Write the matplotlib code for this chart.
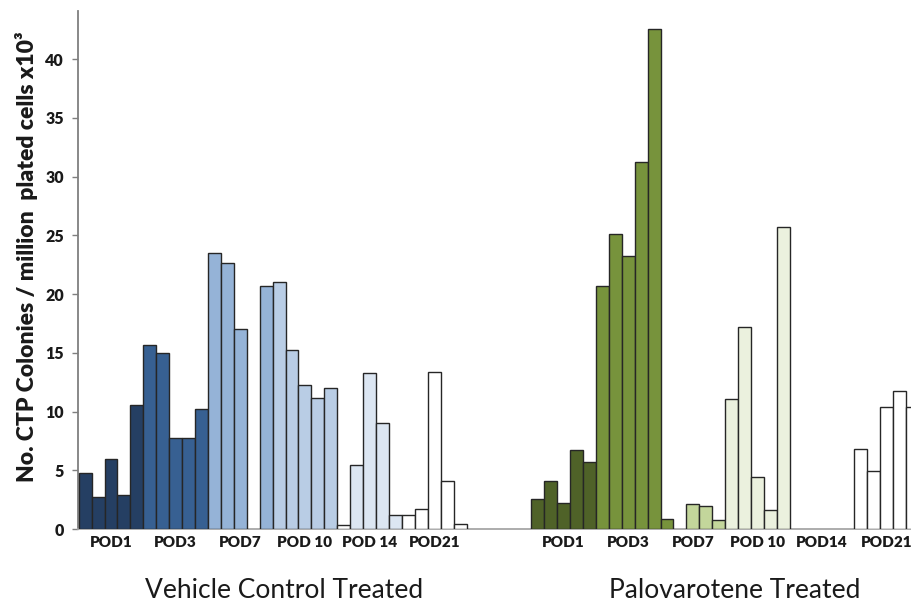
import matplotlib
matplotlib.use("Agg")
import matplotlib.pyplot as plt
import numpy as np

plt.rcParams['font.family'] = ['Lato', 'DejaVu Sans']

# ---- data ----
pod_labels_left = ["POD1", "POD3", "POD7", "POD 10", "POD 14", "POD21"]
pod_labels_right = ["POD1", "POD3", "POD7", "POD 10", "POD14", "POD21"]

vehicle_values = [4.73, 2.74, 5.95, 2.87, 10.58,
                  15.7, 14.97, 7.77, 7.77, 10.24,
                  23.5, 22.65, 17.04, 0.0, 20.7,
                  21.07, 15.27, 12.3, 11.19, 11.98,
                  0.35, 5.45, 13.3, 9.0, 1.2,
                  1.2, 1.7, 13.4, 4.1, 0.4]
# colour class per bar (index into vehicle_palette)
vehicle_shade = [0, 0, 0, 0, 0,
                 1, 1, 1, 1, 1,
                 2, 2, 2, 2, 2,
                 3, 3, 3, 3, 3,
                 5, 4, 4, 4, 4,
                 5, 5, 5, 5, 5]

palovarotene_values = [2.59, 4.12, 2.23, 6.71, 5.73,
                       20.73, 25.15, 23.2, 31.25, 42.6,
                       0.82, 0.0, 2.13, 2.0, 0.76,
                       11.07, 17.16, 4.39, 1.59, 25.67,
                       0.0, 0.0, 0.0, 0.0, 0.0,
                       6.83, 4.94, 10.37, 11.77, 10.37]
palovarotene_shade = [0, 0, 0, 0, 0,
                      1, 1, 1, 1, 1,
                      1, 2, 2, 2, 2,
                      3, 3, 3, 3, 3,
                      4, 4, 4, 4, 4,
                      4, 4, 4, 4, 4]

vehicle_palette = ["#253f63", "#376092", "#95b3d7", "#b9cde5", "#dce6f2", "#ffffff"]
palovarotene_palette = ["#4f6228", "#77933c", "#c3d69b", "#ebf1de", "#ffffff"]

group_titles = ["Vehicle Control Treated", "Palovarotene Treated"]
yticks = [0, 5, 10, 15, 20, 25, 30, 35, 40]

# ---- figure ----
fig = plt.figure(figsize=(9.12, 6.05), dpi=100)
ax = fig.add_axes([78 / 912, 1 - 529 / 605, 1 - 78 / 912, (529 - 11) / 605])

n = len(vehicle_values)
offset = n + 5
x_left = np.arange(n)
x_right = np.arange(len(palovarotene_values)) + offset

for xs, vals, shades, pal in [(x_left, vehicle_values, vehicle_shade, vehicle_palette),
                              (x_right, palovarotene_values, palovarotene_shade, palovarotene_palette)]:
    for x, v, s in zip(xs, vals, shades):
        if v <= 0:
            continue
        ax.bar(x, v, width=1.0, align='edge', color=pal[s],
               edgecolor="#262626", linewidth=1.0, zorder=3)

ax.set_xlim(-0.05, 64.45)
ax.set_ylim(0, 44.1)

ax.spines['top'].set_visible(False)
ax.spines['right'].set_visible(False)
ax.spines['left'].set_color("#7f7f7f")
ax.spines['left'].set_linewidth(1.3)
ax.spines['bottom'].set_color("#a6a6a6")
ax.spines['bottom'].set_linewidth(1.3)

ax.set_yticks(yticks)
ax.set_yticklabels([str(t) for t in yticks], fontsize=11.5, fontweight='heavy', color="#1a1a1a")
ax.tick_params(axis='y', direction='out', length=4, width=1, color="#7f7f7f", pad=6)

xt = [2.5 + 5 * k for k in range(6)] + [offset + 2.5 + 5 * k for k in range(6)]
ax.set_xticks(xt)
ax.set_xticklabels(pod_labels_left + pod_labels_right, fontsize=11, fontweight='heavy', color="#1a1a1a")
ax.tick_params(axis='x', length=0, pad=5)

ax.set_ylabel("No. CTP Colonies / million  plated cells x10\u00b3", fontsize=16.5,
              fontweight='heavy', color="#1a1a1a")
ax.yaxis.set_label_coords((27 - 78) / 834, (529 - 257) / 518)
ax.yaxis.label.set_va('center')

trans = matplotlib.transforms.blended_transform_factory(ax.transData, fig.transFigure)
ax.text(15.9, 1 - 591 / 605, group_titles[0], transform=trans, ha='center', va='center',
        fontsize=19, color="#1a1a1a")
ax.text(50.7, 1 - 591 / 605, group_titles[1], transform=trans, ha='center', va='center',
        fontsize=19, color="#1a1a1a")

fig.savefig("out.png", dpi=100)
